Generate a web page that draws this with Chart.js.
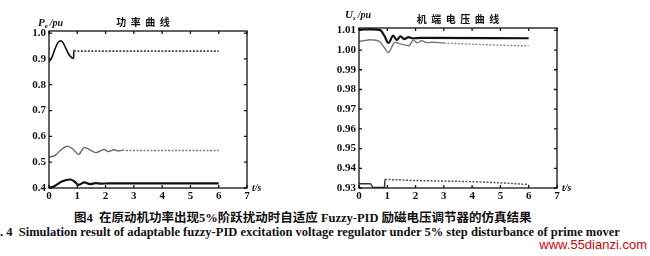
<!DOCTYPE html>
<html>
<head>
<meta charset="utf-8">
<script src="https://cdn.jsdelivr.net/npm/chart.js@4"></script>
<style>
    body { margin: 0; background: #fff; width: 650px; height: 256px; overflow: hidden; position: relative; }
    canvas { position: absolute; top: 0; }
    #left-chart { left: 0; }
    #right-chart { left: 310px; }
    .caption { position: absolute; white-space: nowrap; font-weight: bold; color: #111; }
    #cap-cn { left: 74px; top: 207px; font: bold 12.5px "Liberation Serif", "Noto Sans CJK SC"; }
    #cap-en { left: 0; top: 225px; font: bold 12.5px "Liberation Serif"; }
    #mark { right: 3px; top: 237px; font: 13px "Liberation Sans"; color: #e00000; font-weight: normal; }
</style>
</head>
<body>
<canvas id="left-chart" width="310" height="205"></canvas>
<canvas id="right-chart" width="340" height="205"></canvas>
<div class="caption" id="cap-cn">图4&nbsp;&nbsp;在原动机功率出现5%阶跃扰动时自适应 Fuzzy-PID 励磁电压调节器的仿真结果</div>
<div class="caption" id="cap-en">. 4&nbsp;&nbsp;Simulation result of adaptable fuzzy-PID excitation voltage regulator under 5% step disturbance of prime mover</div>
<div class="caption" id="mark">www.55dianzi.com</div>
<script>
// tick values
const xTicks = [0, 1, 2, 3, 4, 5, 6, 7];
const powerTicks = [0.4, 0.5, 0.6, 0.7, 0.8, 0.9, 1.0];
const voltTicks = [0.93, 0.94, 0.95, 0.96, 0.97, 0.98, 0.99, 1.00, 1.01];

// power curves (left)
const pTopT = [0, 0.1, 0.2, 0.3, 0.41, 0.5, 0.6, 0.7, 0.8, 0.87, 0.88, 1.0, 6];
const pTopV = [0.889, 0.905, 0.935, 0.960, 0.970, 0.962, 0.940, 0.918, 0.905, 0.902, 0.932, 0.930, 0.930];
const pMidT = [0, 0.2, 0.4, 0.65, 0.85, 1.05, 1.25, 1.45, 1.65, 1.95, 2.1, 2.3, 2.45, 2.6, 2.8, 6];
const pMidV = [0.520, 0.525, 0.545, 0.562, 0.550, 0.530, 0.557, 0.548, 0.537, 0.549, 0.541, 0.548, 0.543, 0.546, 0.545, 0.545];
const pLowT = [0, 0.2, 0.45, 0.75, 0.9, 1.05, 1.25, 1.45, 1.65, 1.85, 2.1, 6];
const pLowV = [0.400, 0.408, 0.425, 0.433, 0.425, 0.412, 0.422, 0.415, 0.419, 0.417, 0.418, 0.418];

// terminal voltage curves (right)
const uTopT = [0, 0.5, 0.75, 0.9, 1.04, 1.21, 1.33, 1.47, 1.6, 1.75, 1.9, 2.2, 6];
const uTopV = [1.0104, 1.0105, 1.0101, 1.0072, 1.0036, 1.0073, 1.0051, 1.0069, 1.0056, 1.0066, 1.0060, 1.0062, 1.0060];
const uMidT = [0, 0.2, 0.4, 0.6, 0.75, 0.9, 1.04, 1.27, 1.5, 1.77, 1.92, 2.06, 2.21, 2.39, 2.6, 3, 4, 5, 6];
const uMidV = [1.0044, 1.0048, 1.0052, 1.0050, 1.0040, 1.0012, 0.9988, 1.0040, 1.0030, 1.0022, 1.0051, 1.0037, 1.0047, 1.0038, 1.0040, 1.0036, 1.0030, 1.0025, 1.0021];
const uLowT = [0, 0.4, 0.5, 0.9, 0.92, 2, 3, 4, 5, 6];
const uLowV = [0.9322, 0.9322, 0.9303, 0.9303, 0.9343, 0.9338, 0.9335, 0.9332, 0.9326, 0.9318];

const tickFont = { family: 'Liberation Serif', size: 11, weight: 'bold' };

function toPoints(ts, vs) {
    return ts.map((t, i) => ({ x: t, y: vs[i] }));
}

// solid up to `from`, dotted afterwards
function series(ts, vs, width, color, from, dotColor) {
    return {
        data: toPoints(ts, vs),
        borderColor: color,
        borderWidth: width,
        pointRadius: 0,
        cubicInterpolationMode: 'monotone',
        segment: {
            borderDash: ctx => ctx.p0.parsed.x >= from ? [2, 1.5] : undefined,
            borderColor: ctx => ctx.p0.parsed.x >= from ? dotColor : color
        }
    };
}

const framePlugin = {
    id: 'frame',
    afterDraw(chart, args, opts) {
        const { ctx, chartArea: a, scales: { x, y } } = chart;
        ctx.save();
        ctx.strokeStyle = '#111';
        ctx.lineWidth = 1.3;
        ctx.strokeRect(a.left, a.top, a.right - a.left, a.bottom - a.top);
        ctx.beginPath();
        x.ticks.forEach((t, i) => {
            const px = x.getPixelForTick(i);
            ctx.moveTo(px, a.bottom); ctx.lineTo(px, a.bottom - 3);
            ctx.moveTo(px, a.top); ctx.lineTo(px, a.top + 3);
        });
        y.ticks.forEach((t, i) => {
            const py = y.getPixelForTick(i);
            ctx.moveTo(a.left, py); ctx.lineTo(a.left + 3, py);
            ctx.moveTo(a.right, py); ctx.lineTo(a.right - 3, py);
        });
        ctx.stroke();

        ctx.fillStyle = '#111';
        ctx.textBaseline = 'middle';
        ctx.textAlign = 'center';
        ctx.font = 'bold 10px "Noto Sans CJK SC"';
        ctx.fillText(opts.title, (a.left + a.right) / 2 + opts.titleDx, a.top - 9);

        // unit label, e.g. Pe/pu
        ctx.textAlign = 'left';
        let ux = a.left + opts.unitDx;
        const uy = a.top + opts.unitDy;
        ctx.font = 'italic bold 11px "Liberation Serif"';
        ctx.fillText(opts.unit[0], ux, uy);
        ux += ctx.measureText(opts.unit[0]).width;
        ctx.font = 'italic bold 7px "Liberation Serif"';
        ctx.fillText(opts.unit[1], ux, uy + 3);
        ux += ctx.measureText(opts.unit[1]).width + 2;
        ctx.font = 'italic bold 10px "Liberation Serif"';
        ctx.fillText('/pu', ux, uy);

        ctx.font = 'italic bold 10px "Liberation Serif"';
        ctx.fillText('t/s', a.right + 5, a.bottom);
        ctx.restore();
    }
};

function makeChart(id, datasets, yTicks, yMin, yMax, digits, top, right, frame) {
    const canvas = document.getElementById(id);
    return new Chart(canvas, {
        type: 'line',
        data: { datasets: datasets },
        plugins: [framePlugin],
        options: {
            responsive: false,
            animation: false,
            devicePixelRatio: 1,
            layout: { padding: { top: top, right: canvas.width - right, left: 0, bottom: 0 } },
            plugins: { legend: { display: false }, tooltip: { enabled: false }, frame: frame },
            scales: {
                x: {
                    type: 'linear',
                    min: 0,
                    max: 7,
                    afterBuildTicks: scale => { scale.ticks = xTicks.map(v => ({ value: v })); },
                    afterFit: scale => { scale.height = canvas.height - 188; },
                    grid: { display: false, drawTicks: false },
                    border: { display: false },
                    ticks: { font: tickFont, color: '#111', padding: 2, maxRotation: 0, callback: v => String(v) }
                },
                y: {
                    min: yMin,
                    max: yMax,
                    afterBuildTicks: scale => { scale.ticks = yTicks.map(v => ({ value: v })); },
                    afterFit: scale => { scale.width = 49; },
                    grid: { display: false, drawTicks: false },
                    border: { display: false },
                    ticks: { font: tickFont, color: '#111', padding: 3, callback: v => v.toFixed(digits) }
                }
            }
        }
    });
}

document.addEventListener('DOMContentLoaded', () => {
    makeChart('left-chart', [
        series(pTopT, pTopV, 1.6, '#111', 0.88, '#444'),
        series(pMidT, pMidV, 1.4, '#666', 2.6, '#777'),
        series(pLowT, pLowV, 2.2, '#111', 99, '#111')
    ], powerTicks, 0.4, 1.008, 1, 31, 247,
    { title: '功  率  曲  线', titleDx: -5, unit: ['P', 'e'], unitDx: -11, unitDy: -8 });

    makeChart('right-chart', [
        series(uTopT, uTopV, 2.2, '#111', 99, '#111'),
        series(uMidT, uMidV, 1.4, '#777', 2.7, '#888'),
        series(uLowT, uLowV, 1.5, '#333', 0.92, '#555')
    ], voltTicks, 0.93, 1.0112, 2, 28, 247,
    { title: '机  端  电  压  曲  线', titleDx: 0, unit: ['U', 's'], unitDx: -14, unitDy: -13 });
});
</script>
</body>
</html>
